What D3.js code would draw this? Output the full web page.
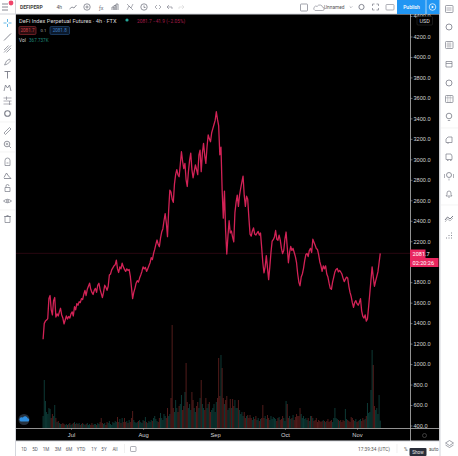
<!DOCTYPE html>
<html>
<head>
<meta charset="utf-8">
<title>DeFi Index Perpetual Futures</title>
<script src="https://cdnjs.cloudflare.com/ajax/libs/d3/7.8.5/d3.min.js"></script>
<style>
html,body{margin:0;padding:0;background:#fff;overflow:hidden}
svg{display:block;font-family:Roboto,"Liberation Sans",sans-serif}
</style>
</head>
<body>
<svg id="chart" width="458" height="456"></svg>
<script>
// Closing prices, one reading every 12 hours from 19 June.
const closes = [
1242,1398,1420,1430,1445,1640,1670,1530,1480,1620,
1650,1460,1490,1470,1510,1545,1480,1450,1392,1430,
1470,1440,1465,1450,1490,1510,1470,1560,1530,1590,
1575,1610,1600,1640,1630,1680,1720,1670,1730,1760,
1790,1730,1700,1680,1720,1740,1700,1770,1790,1730,
1690,1650,1700,1770,1750,1720,1760,1870,1880,1920,
1940,1960,1970,2016,1930,1895,1950,1930,1985,1950,
1925,1905,1930,1915,1925,1860,1750,1640,1700,1740,
1790,1815,1800,1840,1870,1905,1950,1930,1945,1905,
1930,1960,1990,2040,2020,2080,2120,2170,2212,2170,
2146,2230,2290,2320,2400,2470,2380,2245,2500,2700,
2680,2610,2580,2760,2850,2900,2850,2830,2950,3074,
2980,2910,2960,2800,2735,2880,2990,3060,2900,2820,
2880,2945,2900,2850,3040,3090,2880,3060,3156,3040,
2960,3120,3238,3200,3172,3260,3300,3340,3380,3465,
3390,3330,3045,3120,2700,2425,2690,2300,2075,2250,
2400,2280,2300,2240,2195,2480,2580,2650,2540,2650,
2720,2780,2835,2650,2540,2640,2610,2430,2270,2250,
2300,2330,2270,2260,2280,2295,2260,2280,2140,1990,
1890,1950,2060,1940,1825,1950,2090,2200,2215,2240,
2305,2220,2210,2260,2210,2130,2080,2110,2220,2290,
2140,1990,2090,2150,2110,2130,2090,2050,1990,1880,
1800,1765,1850,1880,1935,2010,2070,2080,2050,2110,
2130,2090,2220,2190,2160,2130,2120,2070,2000,1960,
1905,1960,1930,1960,1880,1850,1790,1740,1730,1800,
1850,1900,1925,1935,1900,1915,1900,1880,1840,1805,
1830,1850,1840,1760,1700,1660,1600,1555,1600,1620,
1590,1575,1600,1640,1520,1465,1450,1480,1420,1440,
1560,1690,1820,1950,1850,1760,1810,1855,1900,1990,2081.7
];

// Traded volume for the same readings, in thousands.
const volumes = [
600,2400,1350,800,700,1000,950,500,700,600,
1150,500,300,350,250,200,200,250,200,150,
200,150,200,250,150,200,250,300,200,250,
200,250,150,200,250,200,150,200,250,150,
200,150,250,150,200,200,150,250,200,300,
500,250,200,250,150,300,250,350,200,150,
300,250,350,300,550,300,450,250,500,300,
500,300,350,250,400,300,500,850,400,300,
250,300,350,400,300,250,400,350,550,300,
250,350,300,400,350,500,600,450,350,300,
500,750,500,400,700,600,500,1000,600,700,
1500,5150,1000,800,1400,1000,800,1100,1200,1650,
900,1100,1800,3250,1300,1000,1200,900,1800,1400,
1000,800,1100,1300,1000,1500,2400,1200,1000,900,
1500,1000,1200,1300,800,900,1000,1200,800,1300,
1500,3500,1600,3650,3000,1500,1200,1400,1600,900,
1000,1450,1000,1450,1100,1400,1000,1000,1400,900,
700,800,600,800,500,600,650,500,650,500,
400,550,450,600,400,500,350,450,500,1150,
500,600,450,650,500,400,600,450,550,500,
450,350,500,550,400,450,600,500,350,1350,
1200,500,600,450,500,650,400,550,700,600,
600,1000,700,500,600,450,500,400,500,350,
600,600,500,350,400,500,300,400,350,300,
350,400,350,300,350,450,300,350,400,300,
500,1000,500,450,400,350,400,300,400,350,
950,450,400,350,300,550,500,400,350,450,
300,350,400,450,350,500,400,450,600,1250,
750,800,1900,3900,3150,1100,900,1000,700,1650,368
];

// The 2000 level sits under the live price tags, so it carries no label.
const priceTicks = [400,600,800,1000,1200,1400,1600,1800,2200,2400,2600,2800,3000,3200,3400,3600,3800,4000,4200,4400];
const monthLabels = ["Jul","Aug","Sep","Oct","Nov"];
const monthStarts = [6,7,8,9,10].map(m => new Date(Date.UTC(2021,m,1)));
const rangeButtons = ["1D","5D","1M","3M","6M","YTD","1Y","5Y","All"];
const rangeButtonX = [24,35,46,58,69,81,94,104,115];
const startTime = Date.UTC(2021,5,19);
const stepMs = 12*3600*1000;
const lastPrice = 2081.7;

const pink = "#e9265f", red = "#ef5350", teal = "#26a69a", grey = "#787b86", publishBlue = "#2196f3";
const svg = d3.select("#chart");

const x = d3.scaleUtc().domain([monthStarts[0], monthStarts[4]]).range([71,357]);
const y = d3.scaleLinear().domain([400,4200]).range([425.5,36.5]);
const yVol = d3.scaleLinear().domain([0,6000]).range([428,308]);
const timeAt = i => new Date(startTime + i*stepMs);

// Chart pane
svg.append("rect").attr("x",16).attr("y",14).attr("width",423.5).attr("height",427).attr("fill","#000");

// Volume histogram, coloured by the direction of the close
svg.append("g").selectAll("rect").data(volumes).join("rect")
  .attr("x",(d,i)=>x(timeAt(i))-0.5)
  .attr("width",1)
  .attr("y",d=>yVol(d))
  .attr("height",d=>yVol(0)-yVol(d))
  .attr("fill",(d,i)=> i>0 && closes[i]<closes[i-1] ? red : teal)
  .attr("fill-opacity",0.34);

// Last price guide
svg.append("line").attr("x1",16).attr("x2",410).attr("y1",y(lastPrice)).attr("y2",y(lastPrice))
  .attr("stroke",pink).attr("stroke-opacity",0.22).attr("stroke-width",0.8);

// Price line
const priceLine = d3.line().x((d,i)=>x(timeAt(i))).y(d=>y(d));
svg.append("path").datum(closes).attr("d",priceLine)
  .attr("fill","none").attr("stroke",pink).attr("stroke-opacity",0.9).attr("stroke-width",1.3).attr("stroke-linejoin","round");

// Price axis
const yAxis = d3.axisRight(y).tickValues(priceTicks).tickSize(2.5).tickPadding(1)
  .tickFormat(d3.format(".1f"));
const gy = svg.append("g").attr("transform","translate(410,0)").call(yAxis);
gy.select(".domain").attr("stroke","#b8b8b8").attr("stroke-width",0.8).attr("d","M0.5,14V441");
gy.selectAll(".tick line").attr("stroke","#aaa").attr("stroke-width",0.6);
gy.selectAll("text").attr("fill","#d6d6d6").attr("font-size",5.6).attr("font-family",null);

// Time axis
const xAxis = d3.axisBottom(x).tickValues(monthStarts).tickSize(1.5).tickPadding(3)
  .tickFormat((d,i)=>monthLabels[i]);
const gx = svg.append("g").attr("transform","translate(0,428.3)").call(xAxis);
gx.select(".domain").attr("stroke","#b8b8b8").attr("stroke-width",0.8).attr("d","M16,0.2H439.5");
gx.selectAll(".tick line").attr("stroke","#aaa").attr("stroke-width",0.6);
gx.selectAll("text").attr("fill","#d6d6d6").attr("font-size",5.8).attr("font-family",null);

// Price tags on the axis
svg.append("rect").attr("x",410).attr("y",249.5).attr("width",15.5).attr("height",8.5).attr("fill",pink);
svg.append("text").attr("x",412.5).attr("y",256).attr("font-size",5.6).attr("fill","#fff").text("2081.7");
svg.append("rect").attr("x",410).attr("y",258).attr("width",28.5).attr("height",9).attr("fill",pink);
svg.append("text").attr("x",412.5).attr("y",264.7).attr("font-size",5.6).attr("fill","#fff").text("02:20:26");

// Currency tag
svg.append("rect").attr("x",417).attr("y",16.5).attr("width",15.5).attr("height",8.5).attr("rx",1)
  .attr("fill","#000").attr("stroke","#333").attr("stroke-width",0.5);
svg.append("text").attr("x",419.5).attr("y",23).attr("font-size",5.4).attr("fill","#ddd").text("USD");

// Series legend
svg.append("text").attr("x",19).attr("y",22.5).attr("font-size",5.7).attr("fill","#d8d8d8")
  .text("DeFi Index Perpetual Futures · 4h · FTX");
svg.append("circle").attr("cx",127).attr("cy",20).attr("r",1.6).attr("fill",teal);
svg.append("text").attr("x",137).attr("y",22.5).attr("font-size",4.8).attr("fill","#a81c4a")
  .text("2081.7 −41.9 (−2.05%)");
svg.append("rect").attr("x",19).attr("y",26.5).attr("width",17).attr("height",8).attr("rx",1.2)
  .attr("fill","#2a0d10").attr("stroke","#8c2a30").attr("stroke-width",0.7);
svg.append("text").attr("x",27.5).attr("y",32.3).attr("text-anchor","middle").attr("font-size",4.6).attr("fill","#c84048").text("2081.7");
svg.append("text").attr("x",43.5).attr("y",32.3).attr("text-anchor","middle").attr("font-size",4.2).attr("fill","#a8a8a8").text("0.1");
svg.append("rect").attr("x",50).attr("y",26.5).attr("width",19.5).attr("height",8).attr("rx",1.2)
  .attr("fill","#0c1a2c").attr("stroke","#224a78").attr("stroke-width",0.7);
svg.append("text").attr("x",59.7).attr("y",32.3).attr("text-anchor","middle").attr("font-size",4.6).attr("fill","#3f7fc4").text("2081.8");
svg.append("text").attr("x",19).attr("y",42.2).attr("font-size",4.8).attr("fill","#d8d8d8").text("Vol");
svg.append("text").attr("x",29).attr("y",42.2).attr("font-size",4.6).attr("fill","#1f8a7c").text("367.737K");

// Cloud badge in the pane corner
svg.append("circle").attr("cx",24).attr("cy",419.5).attr("r",5.5).attr("fill","#26303c");
svg.append("path").attr("d","M20.5,421.5h7a1.6,1.6 0 0 0 0.2,-3.2a2.6,2.6 0 0 0 -4.8,-0.7a1.9,1.9 0 0 0 -2.4,3.9z").attr("fill","#2f8fe0");
// Settings ring at the axis corner
svg.append("circle").attr("cx",424.5).attr("cy",435.5).attr("r",2).attr("fill","none").attr("stroke","#555").attr("stroke-width",0.7);

// Toolbars around the pane
const chrome = svg.append("g");
const panel = (bx,by,bw,bh,col) => chrome.append("rect")
  .attr("x",bx).attr("y",by).attr("width",bw).attr("height",bh).attr("fill",col);
const rule = (x1,y1,x2,y2,col,w) => chrome.append("line")
  .attr("x1",x1).attr("y1",y1).attr("x2",x2).attr("y2",y2)
  .attr("stroke",col).attr("stroke-width",w);
panel(0,0,458,14,"#fff");
panel(0,0,15.5,456,"#fff");
panel(0,441,458,15,"#fff");
panel(439.5,0,18.5,456,"#fff");
rule(15.5,0,15.5,456,"#d4d6dc",1);
rule(0,14,440,14,"#d4d6dc",1);
rule(16,441,440,441,"#d4d6dc",1);
rule(440,0,440,456,"#d4d6dc",1);

const icon = (px,py,d,w) => chrome.append("path").attr("transform",`translate(${px},${py})`)
  .attr("d",d).attr("fill","none").attr("stroke",grey).attr("stroke-width",w||0.8);
const ring = (cx,cy,r,w) => chrome.append("circle").attr("cx",cx).attr("cy",cy).attr("r",r)
  .attr("fill","none").attr("stroke",grey).attr("stroke-width",w||0.8);
const box = (bx,by,bw,bh,w) => chrome.append("rect").attr("x",bx).attr("y",by).attr("width",bw).attr("height",bh).attr("rx",0.8)
  .attr("fill","none").attr("stroke",grey).attr("stroke-width",w||0.7);
const label = (px,py,t,fs,col,weight,anchor) => chrome.append("text").attr("x",px).attr("y",py)
  .attr("font-size",fs).attr("fill",col).attr("font-weight",weight||400).attr("text-anchor",anchor||"start").text(t);

// Top bar
icon(5,7,"M-3,-3H3M-3,0H3M-3,3H3",0.9);
chrome.append("circle").attr("cx",11).attr("cy",3).attr("r",2.4).attr("fill","#f0456a");
label(20,9,"DEFIPERP",5,"#444",700);
label(56.5,9,"4h",5,"#555");
icon(73,7,"M-3.5,2L-1,0L1,1L3.5,-2",0.8);
ring(87,7,3.2);
icon(87,7,"M-1.6,0H1.6M0,-1.6V1.6");
label(99,9.5,"ƒx",5.5,grey);
icon(115,7,"M-3,3V0H-1V3M-1,3V-1.5H1V3M1,3V-3H3V3");
icon(130,7,"M-3,3L-1,-1L1,1L3,-3M-3,-3L3,3",0.6);
ring(144,7,3.2);
icon(144,7,"M0,-1.5V0.5H1.5");
icon(158,7,"M-1,-2L-3,0L-1,2M1,-2L3,0L1,2",0.6);
icon(170,7,"M-1,-2L-3,0L-1,2M-3,0H2V2",0.6);
icon(181,7,"M1,-2L3,0L1,2M3,0H-2V2",0.5).attr("stroke","#ccc");
box(300.5,4,7,7);
icon(319,8,"M-3.5,2.5H3.5a1.6,1.6 0 0 0 0.2,-3.2a3,3 0 0 0 -5.5,-0.9a2.1,2.1 0 0 0 -2.2,4.1z",0.6);
label(324,9.3,"Unnamed",4.8,"#555");
icon(351,7,"M-1.3,-0.6L0,0.7L1.3,-0.6",0.5);
ring(361.5,7,2.6,0.9);
icon(375.5,7,"M-3,-1V-3H-1M1,-3H3V-1M3,1V3H1M-1,3H-3V1",0.7);
box(386,4.5,8,5.5,0.6);

// Publish button and its companion
panel(397,0,42.5,14,publishBlue);
rule(426,0,426,14,"#fff",0.6);
label(411.5,9.3,"Publish",5,"#fff",500,"middle");
chrome.append("circle").attr("cx",432.5).attr("cy",7).attr("r",3.3).attr("fill","none").attr("stroke","#fff").attr("stroke-width",0.7);
chrome.append("path").attr("d","M431.7,5.5L434,7L431.7,8.5z").attr("fill","#fff");

// Left drawing tools
icon(7.5,23,"M-4,0H-1M1,0H4M0,-4V-1M0,1V4").attr("stroke","#3fa7e0");
icon(7.5,37,"M-3.5,3.5L3.5,-3.5",0.9);
icon(7.5,49,"M-3.5,1L1,-3.5M-3.5,3.5L3.5,-3.5M-1,3.5L3.5,-1",0.7);
icon(7.5,62,"M-3,3L-1,-1L2,-3L3,-1L0,2z",0.7);
icon(7.5,75,"M-3,-3.5H3M0,-3.5V3.5",0.9);
icon(7.5,88,"M-3.5,3L-2,-3L0,0L2,-3L3.5,3",0.8);
icon(7.5,101,"M-4,-3H4M-4,0H4M-4,3H4M-1,-4.5V-1M2,0V4",0.6);
ring(7.5,113.5,2.8,1.1);
icon(7.5,131,"M-3.5,2L2,-3.5L3.5,-2L-2,3.5z",0.7);
ring(7,144,2.8,0.8);
icon(7,144,"M2,2L4,4M-1.2,0H1.2M0,-1.2V1.2",0.7);
icon(7.5,162,"M-2.5,3.5V-1.5a2.5,2.5 0 0 1 5,0V3.5zM-1,1H1",0.7);
icon(7.5,175,"M-3.5,2.5L-1,-2L1,1L3.5,3.5H-3.5",0.8);
icon(7.5,188,"M-2.5,-0.5H2.5V3.5H-2.5zM-1.5,-0.5V-2a1.5,1.5 0 0 1 3,0",0.7);
icon(7.5,201,"M-4,0Q0,-3.5 4,0Q0,3.5 -4,0z",0.7);
ring(7.5,201,1,0.8);
icon(7.5,219,"M-2.5,-2.5H2.5V3.5H-2.5zM-3.5,-2.5H3.5M-1,-3.5H1",0.7);
rule(0,122,15,122,"#ececec",0.6);
rule(0,152,15,152,"#ececec",0.6);
rule(0,210,15,210,"#ececec",0.6);

// Right side panel
box(445.5,5.5,7.5,7);
icon(449,9,"M-2.5,-1H2.5M-2.5,1H2.5",0.6);
ring(449,27,3,0.8);
box(445.5,41.5,7.5,7);
icon(449,45,"M-2.5,-1H2.5M-2.5,1H2.5M-1,-3V3M1,-3V3",0.4);
icon(449,64,"M-3,-2.5H3V3H-3zM-3,-0.5H3",0.7);
ring(449,83,3,0.8);
box(445.5,95.5,7.5,7);
icon(449,99,"M-3.5,-1.2H3.5M-1.2,-3.5V3.5M1.2,-3.5V3.5",0.4);
ring(449,116,2.8,0.8);
icon(449,120.5,"M-1.2,0H1.2",0.7);
icon(449,140,"M-3,2.5V-1L-1,-3H3V2.5zM-1,2.5V4",0.7);
icon(449,157,"M-3,2.5V-3H2L3,-1V2.5zM-2,3.5H-0.5M1,3.5H2.5",0.7);
ring(449,175,2.5,0.8);
icon(449,176,"M-4.5,-2V2M4.5,-2V2M0,2.5V4.5",0.6);
icon(449,194,"M-3,2H3L2,0.5V-1a2,2 0 0 0 -4,0V0.5zM-0.8,3.2H0.8",0.7);
icon(449,218,"M-4,2L-1.5,-1L1,1L4,-2",1);
icon(449,220,"M-4,2L-1.5,-1L1,1L4,-2",0.5);
icon(449,235,"M-3,3H-2M-0.5,3H0.5M2,3H3M-0.5,0.5H0.5M2,0.5H3M2,-2H3",0.9);
rule(441,128,458,128,"#ececec",0.6);
rule(441,205,458,205,"#ececec",0.6);
icon(449.5,444,"M0,-3.5L4,-1L0,1.5L-4,-1zM-4,1L0,3.5L4,1",0.7);

// Bottom range bar
rangeButtons.forEach((t,i)=>label(rangeButtonX[i],451,t,4.6,"#5b5e68",400,"middle"));
rule(124.5,444,124.5,453,"#e6e6e6",0.6);
box(130.5,446.5,5.5,5,0.6);
label(358,451,"17:39:34 (UTC)",4.8,"#555");
rule(397,444,397,453,"#e6e6e6",0.6);
label(404,451,"%",4.8,"#555");
label(429,451,"auto",4.8,"#555");

// Hover hint over the scale buttons
chrome.append("rect").attr("x",409.5).attr("y",448).attr("width",17).attr("height",8).attr("rx",1).attr("fill","#2a2e39");
label(418,454,"Show",4.6,"#e8e8e8",400,"middle");
</script>
</body>
</html>
